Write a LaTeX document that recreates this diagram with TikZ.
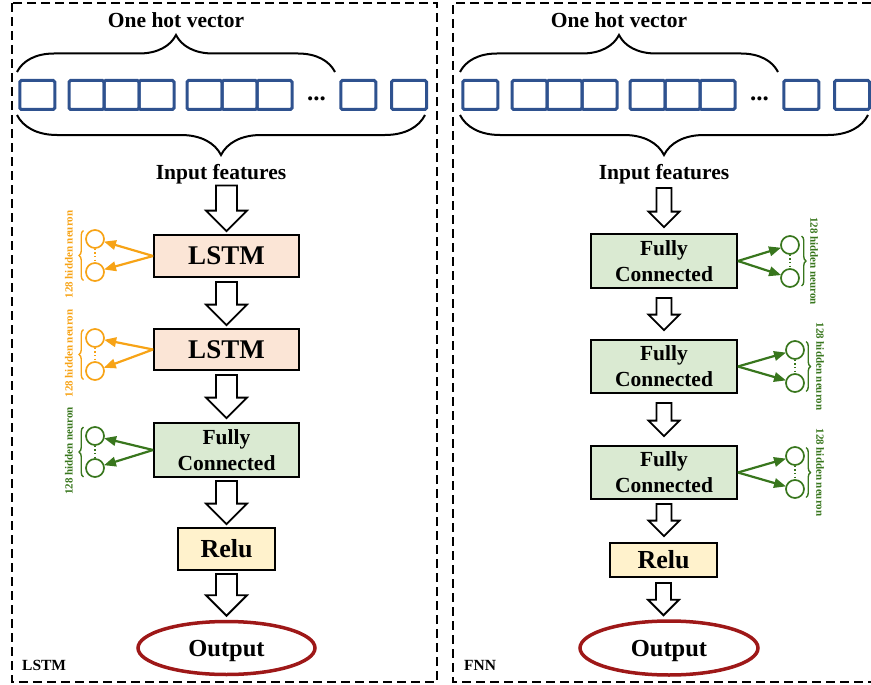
\documentclass[tikz,border=0pt]{standalone}
\usepackage{fontspec}
\setmainfont{Liberation Serif}
\usetikzlibrary{calc,decorations.pathreplacing,arrows.meta,shapes.geometric}

\definecolor{vblue}{RGB}{47,82,143}
\definecolor{lorange}{RGB}{247,163,22}
\definecolor{dgreen}{RGB}{56,118,29}
\definecolor{lstmfill}{RGB}{251,229,214}
\definecolor{fcfill}{RGB}{218,234,210}
\definecolor{relufill}{RGB}{255,242,204}
\definecolor{outred}{RGB}{158,24,24}

\newcommand\fsz[1]{\fontsize{#1}{#1}\selectfont}

% block arrow: #1 source, #2 target, #3 top gap, #4 bottom gap, #5 half shaft, #6 half head, #7 node giving x
\newcommand\blockarr[7]{%
  \draw[barrow] let \p1=(#1.south), \p2=(#2.north), \p3=(#7) in
   (\x3-#5pt,\y1-#3pt) -- (\x3+#5pt,\y1-#3pt) -- (\x3+#5pt,\y2+#4pt+#6pt)
   -- (\x3+#6pt,\y2+#4pt+#6pt) -- (\x3,\y2+#4pt) -- (\x3-#6pt,\y2+#4pt+#6pt)
   -- (\x3-#5pt,\y2+#4pt+#6pt) -- cycle;}

\tikzset{
  panel/.style={line width=2pt, dash pattern=on 9pt off 5pt},
  vsq/.style={draw=vblue, line width=3pt, rounded corners=1.5pt},
  bigbrace/.style={decorate, line width=2pt},
  title/.style={font=\bfseries\fsz{21.5}, inner sep=0pt},
  layer/.style={draw, line width=1.8pt, inner sep=0pt, align=center},
  lstmbox/.style={layer, fill=lstmfill, font=\bfseries\fsz{27}, minimum width=145pt, minimum height=42pt},
  fcbox/.style={layer, fill=fcfill, font=\bfseries\fontsize{21.5}{26}\selectfont},
  relubox/.style={layer, fill=relufill, font=\bfseries\fsz{26}},
  outell/.style={ellipse, draw=outred, line width=3.5pt, inner sep=0pt, text depth=0pt, font=\bfseries\fsz{24.5}},
  barrow/.style={draw, line width=1.8pt, fill=white, line join=miter},
  neuron/.style={circle, draw, line width=1.7pt, minimum size=18pt, inner sep=0pt},
  narrow/.style={-{Triangle[length=12pt,width=9.5pt]}, line width=2.2pt, shorten >=-0.5pt},
  nbrace/.style={decorate, decoration={brace, amplitude=4.5pt}, line width=1.4pt},
  ndots/.style={line width=1.1pt, dash pattern=on 1.2pt off 2.4pt},
  nlabel/.style={font=\bfseries\fsz{11}, inner sep=0pt},
  plabel/.style={font=\bfseries\fsz{15.5}, inner sep=0pt, anchor=base west}
}

\begin{document}
\begin{tikzpicture}[x=1pt,y=-1pt]
\useasboundingbox (0,0) rectangle (871,685);

% panels
\draw[panel] (12,3) rectangle (437,682);
\draw[panel] (871,3) -- (453,3) -- (453,682) -- (871,682);

% one hot vector parts (left and right)
\foreach \sh/\nm in {0/L,443/R}{
\begin{scope}[xshift=\sh pt]
  \foreach \a in {19.8,69,104,139,187,222,257,340.8,391.5}
    \draw[vsq] (\a,80.5) rectangle ++(35,29);
  \node[font=\bfseries\fsz{25}, inner sep=0pt, anchor=base] (dots\nm) at (316.5,100) {...};
  \node[title] (ohv\nm) at (176,20) {One hot vector};
  \draw[bigbrace, decoration={brace, amplitude=37pt}] (17,72) -- (335,72);
  \draw[bigbrace, decoration={brace, amplitude=40pt}] (425,115) -- (17,115);
  \node[title] (in\nm) at (221,174) {Input features};
\end{scope}
}

% ---------- left: LSTM model ----------
\node[lstmbox] (lstm1) at (226.5,256) {LSTM};
\node[lstmbox, minimum height=41pt] (lstm2) at (226.5,349.5) {LSTM};
\node[fcbox, minimum width=145pt, minimum height=54pt] (fcl) at (226.5,450) {Fully\\Connected};
\node[relubox, minimum width=97pt, minimum height=42pt] (relul) at (226.5,549) {Relu};
\node[outell, minimum width=177pt, minimum height=53pt] (outl) at (226.5,648) {Output};
\node[plabel] (labL) at (22,670) {LSTM};

\blockarr{inL}{lstm1}{1.5}{3}{10.5}{20.5}{lstm1}
\blockarr{lstm1}{lstm2}{4}{3}{10.5}{20.5}{lstm1}
\blockarr{lstm2}{fcl}{4}{4}{10.5}{20.5}{lstm2}
\blockarr{fcl}{relul}{3}{3}{10.5}{20.5}{fcl}
\blockarr{relul}{outl}{3}{4}{10.5}{20.5}{relul}

% left neurons
\foreach \b/\ya/\yb/\c/\col in {lstm1/239/272/255.5/lorange, lstm2/338/371/354.5/lorange, fcl/436/468/452/dgreen}{
  \node[neuron, draw=\col] (\b na) at (95,\ya) {};
  \node[neuron, draw=\col] (\b nb) at (95,\yb) {};
  \draw[ndots, draw=\col] (\b na.south) -- (\b nb.north);
  \draw[narrow, draw=\col, fill=\col] (\b.west) -- (\b na);
  \draw[narrow, draw=\col, fill=\col] (\b.west) -- (\b nb);
  \draw[nbrace, draw=\col] (83.5,\c+25) -- (83.5,\c-25);
  \node[nlabel, text=\col, rotate=90] (\b lab) at (69,\c-1) {128 hidden neuron};
}

% ---------- right: FNN model ----------
\node[fcbox, minimum width=146pt, minimum height=54pt] (fc1) at (664,261) {Fully\\Connected};
\node[fcbox, minimum width=146pt, minimum height=53pt] (fc2) at (664,366.5) {Fully\\Connected};
\node[fcbox, minimum width=146pt, minimum height=53pt] (fc3) at (664,472.5) {Fully\\Connected};
\node[relubox, minimum width=107pt, minimum height=34pt] (relur) at (663.5,560) {Relu};
\node[outell, minimum width=178pt, minimum height=54pt] (outr) at (669,648) {Output};
\node[plabel] (labR) at (464,670) {FNN};

\blockarr{inR}{fc1}{4}{6}{7.5}{15.5}{fc1}
\blockarr{fc1}{fc2}{9}{9}{7.5}{15.5}{fc1}
\blockarr{fc2}{fc3}{9}{9}{7.5}{15.5}{fc2}
\blockarr{fc3}{relur}{4}{6}{7.5}{15.5}{fc3}
\blockarr{relur}{outr}{5}{4}{7.5}{15.5}{relur}

% right neurons
\foreach \b/\x/\ya/\yb/\c/\bx/\tx in {fc1/790/245/278/261/801.5/814, fc2/795/350/383/366.5/806/820, fc3/795/456/489/472.5/806/820}{
  \node[neuron, draw=dgreen] (\b na) at (\x,\ya) {};
  \node[neuron, draw=dgreen] (\b nb) at (\x,\yb) {};
  \draw[ndots, draw=dgreen] (\b na.south) -- (\b nb.north);
  \draw[narrow, draw=dgreen, fill=dgreen] (\b.east) -- (\b na);
  \draw[narrow, draw=dgreen, fill=dgreen] (\b.east) -- (\b nb);
  \draw[nbrace, draw=dgreen] (\bx,\c-25) -- (\bx,\c+25);
  \node[nlabel, text=dgreen, rotate=-90] (\b lab) at (\tx,\c) {128 hidden neuron};
}
\end{tikzpicture}
\end{document}
